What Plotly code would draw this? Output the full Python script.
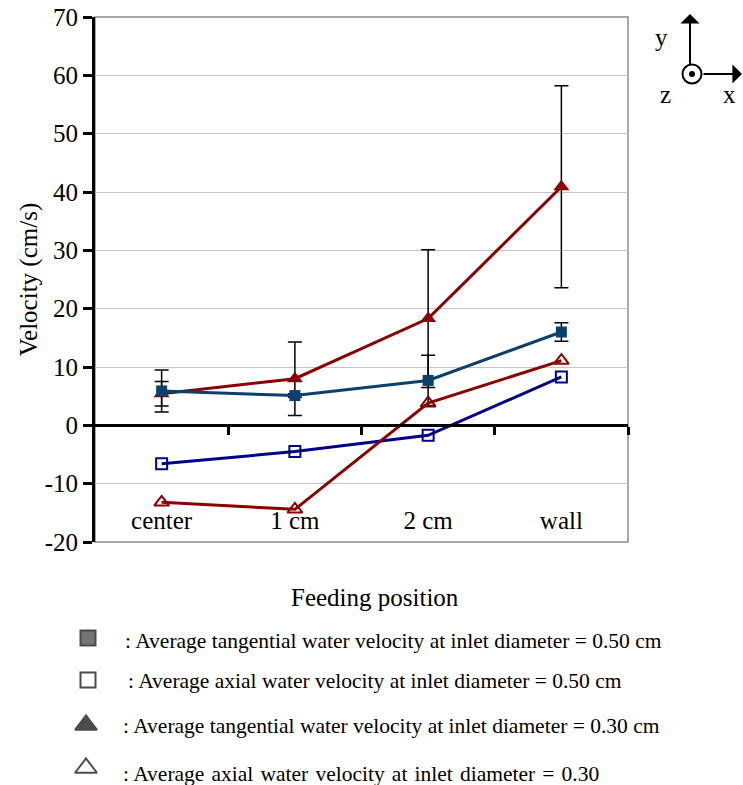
import plotly.graph_objects as go

W, H = 743, 785

# ---- data ----
positions = ["center", "1 cm", "2 cm", "wall"]

tang_050 = [5.9, 5.1, 7.7, 16.0]
tang_050_err = [3.6, 0.3, 4.3, 1.6]
axial_050 = [-6.6, -4.5, -1.7, 8.3]

tang_030 = [5.4, 8.0, 18.3, 40.9]
tang_030_err = [2.1, 6.3, 11.8, 17.3]
axial_030 = [-13.2, -14.4, 3.8, 11.1]

y_ticks = [70, 60, 50, 40, 30, 20, 10, 0, -10, -20]
y_tick_text = ["70", "60", "50", "40", "30", "20", "10", "0", "-10", "-20"]

legend_labels = [
    ": Average tangential water velocity at inlet diameter = 0.50 cm",
    ": Average axial water velocity at inlet diameter = 0.50 cm",
    ": Average tangential water velocity at inlet diameter = 0.30 cm",
    ": Average\u200a axial\u200a water\u200a velocity\u200a at\u200a inlet\u200a diameter\u200a =\u200a 0.30",
]
legend_symbols = ["square", "square-open", "triangle-up", "triangle-up-open"]
legend_fill = ["#3a3a3a", "black", "black", "black"]

FONT = "Liberation Serif, Times New Roman, serif"
BLUE = "#0d3f6e"
NAVY = "#00008b"
RED = "#8b0000"


def px(x):
    return x / W


def py(y):
    return 1 - y / H


# plot area in pixels
L, R, T, B = 95, 628, 17, 542
ymin, ymax = -20, 70
zero_pos = py(B) + (py(T) - py(B)) * (0 - ymin) / (ymax - ymin)

fig = go.Figure()

err_style = dict(type="data", color="black", thickness=1.5, width=7)

fig.add_trace(go.Scatter(
    x=positions, y=tang_030, mode="lines+markers",
    line=dict(color=RED, width=3),
    marker=dict(symbol="triangle-up", size=14, color=RED),
    error_y=dict(array=tang_030_err, **err_style),
    showlegend=False))
fig.add_trace(go.Scatter(
    x=positions, y=tang_050, mode="lines+markers",
    line=dict(color=BLUE, width=3),
    marker=dict(symbol="square", size=11, color=BLUE),
    error_y=dict(array=tang_050_err, **err_style),
    showlegend=False))
fig.add_trace(go.Scatter(
    x=positions, y=axial_050, mode="lines+markers",
    line=dict(color=NAVY, width=3),
    marker=dict(symbol="square-open", size=11, color=NAVY, line=dict(width=2)),
    showlegend=False))
fig.add_trace(go.Scatter(
    x=positions, y=axial_030, mode="lines+markers",
    line=dict(color=RED, width=3),
    marker=dict(symbol="triangle-up-open", size=13, color=RED, line=dict(width=2)),
    showlegend=False))

# legend key markers drawn on their own pixel-scaled axes
legend_rows = [638, 680, 725, 768]
legend_x = [88, 88, 86, 86]
fig.add_trace(go.Scatter(
    x=legend_x, y=legend_rows, mode="markers",
    xaxis="x3", yaxis="y3",
    marker=dict(symbol=legend_symbols, size=[15, 15, 19, 19],
                color=legend_fill, line=dict(color="black", width=2)),
    showlegend=False, hoverinfo="skip"))

text_x = [123, 126, 121, 121]
text_y = [641, 681, 726, 774]
annotations = []
for lbl, tx, ty in zip(legend_labels, text_x, text_y):
    annotations.append(dict(
        text=lbl, x=px(tx), y=py(ty), xref="paper", yref="paper",
        xanchor="left", yanchor="middle", showarrow=False,
        font=dict(family=FONT, size=21.5, color="black")))

# x-axis title
annotations.append(dict(text="Feeding position", x=px(375), y=py(597),
                        xref="paper", yref="paper", showarrow=False,
                        xanchor="center", yanchor="middle",
                        font=dict(family=FONT, size=25, color="black")))

# coordinate-system icon
annotations += [
    dict(x=px(690), y=py(14), xref="paper", yref="paper", ax=0, ay=52,
         text="", showarrow=True, arrowhead=1, arrowsize=1.6, arrowwidth=2,
         arrowcolor="black"),
    dict(x=px(742), y=py(74), xref="paper", yref="paper", ax=-40, ay=0,
         text="", showarrow=True, arrowhead=1, arrowsize=1.6, arrowwidth=2,
         arrowcolor="black"),
]
for t, x, y in [("y", 661, 38), ("z", 665, 95), ("x", 729, 95)]:
    annotations.append(dict(text=t, x=px(x), y=py(y), xref="paper", yref="paper",
                            showarrow=False, xanchor="center", yanchor="middle",
                            font=dict(family=FONT, size=25, color="black")))

shapes = [
    dict(type="circle", xref="paper", yref="paper", xsizemode="pixel",
         ysizemode="pixel", xanchor=px(692), yanchor=py(74),
         x0=-9.5, x1=9.5, y0=-9.5, y1=9.5,
         line=dict(color="black", width=2), fillcolor="white"),
    dict(type="circle", xref="paper", yref="paper", xsizemode="pixel",
         ysizemode="pixel", xanchor=px(692), yanchor=py(74),
         x0=-3, x1=3, y0=-3, y1=3,
         line=dict(color="black", width=0), fillcolor="black"),
    # plot-area frame (top, right, bottom)
    dict(type="rect", xref="paper", yref="paper", x0=px(L), x1=px(R),
         y0=py(B), y1=py(T), line=dict(color="#8c8c8c", width=1.5),
         layer="below"),
]

fig.update_layout(
    width=W, height=H,
    margin=dict(l=0, r=0, t=0, b=0, autoexpand=False),
    paper_bgcolor="white", plot_bgcolor="white",
    font=dict(family=FONT, size=25, color="black"),
    # category labels sit just above the bottom edge of the plot area
    xaxis=dict(
        domain=[px(L), px(R)], type="category", categoryorder="array",
        categoryarray=positions, range=[-0.5, 3.5],
        showgrid=False, zeroline=False, showline=False, ticks="",
        anchor="free", position=py(503), ticklabelstandoff=0,
        tickfont=dict(family=FONT, size=25, color="black"),
        automargin=False,
    ),
    xaxis2=dict(
        domain=[px(L), px(R)], overlaying="x", anchor="free",
        position=zero_pos, range=[-0.5, 3.5],
        tickvals=[0.5, 1.5, 2.5, 3.5], ticks="outside", ticklen=8,
        tickwidth=3, tickcolor="black", showticklabels=False,
        showline=True, linecolor="black", linewidth=3,
        showgrid=False, zeroline=False, automargin=False,
    ),
    yaxis=dict(
        domain=[py(B), py(T)], range=[ymin, ymax],
        tickvals=y_ticks, ticktext=y_tick_text,
        showgrid=True, gridcolor="#c4c4c4", gridwidth=1.2,
        zeroline=False, showline=True, linecolor="black", linewidth=3,
        ticks="outside", ticklen=9, tickwidth=3, tickcolor="black",
        tickfont=dict(family=FONT, size=25, color="black"),
        title=dict(text="Velocity (cm/s)", standoff=0,
                   font=dict(family=FONT, size=25)),
        automargin=False,
    ),
    xaxis3=dict(domain=[0, 1], range=[0, W], visible=False, anchor="y3",
                fixedrange=True, automargin=False),
    yaxis3=dict(domain=[0, py(600)], range=[H, 600], visible=False,
                anchor="x3", fixedrange=True, automargin=False),
    annotations=annotations,
    shapes=shapes,
)

# the zero-level axis line uses xaxis2; attach an invisible trace to it
fig.add_trace(go.Scatter(x=[None], y=[None], xaxis="x2", yaxis="y",
                         showlegend=False, hoverinfo="skip"))

fig.write_html("out.html")
